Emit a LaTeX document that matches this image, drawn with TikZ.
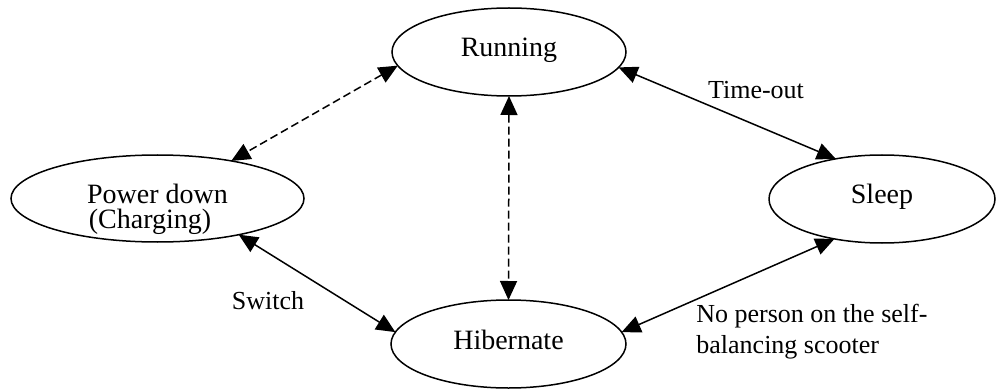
\documentclass[tikz,border=0pt]{standalone}
\usepackage{fontspec}
\setmainfont{Liberation Serif}
\usetikzlibrary{arrows.meta,shapes.geometric}
\begin{document}
\begin{tikzpicture}[x=0.5pt,y=-0.5pt,
  every node/.style={font=\fontsize{13}{15.5}\selectfont},
  state/.style={ellipse, draw, line width=0.75pt, inner sep=0pt, outer sep=0pt,
                font=\fontsize{14}{12.5}\selectfont, text height=9pt, text depth=4pt},
  link/.style={line width=0.75pt, {Triangle[length=9.5pt,width=8.5pt]}-{Triangle[length=9.5pt,width=8.5pt]}},
  dashlink/.style={link, dash pattern=on 4pt off 2pt},
  lbl/.style={inner sep=0pt, anchor=base}]
\useasboundingbox (0,0) rectangle (996,390);

% states
\node[state, minimum width=117pt, minimum height=44pt] (run) at (509,52) {Running};
\node[state, minimum width=146.5pt, minimum height=43.5pt, align=center,
      text height=30pt, text depth=0.5pt] (pd) at (157.5,198.5)
      {Power down\\(Charging)\hspace*{7.5pt}};
\node[state, minimum width=117.5pt, minimum height=44pt] (hib) at (508.5,344) {Hibernate};
\node[state, minimum width=113pt, minimum height=44pt] (sleep) at (882,199) {Sleep};

% transitions
\draw[dashlink] (run.187) -- (pd.27);
\draw[dashlink] (run.270) -- (hib.90);
\draw[link] (run.352) -- (sleep.139);
\draw[link] (sleep.220) -- (hib.6);
\draw[link] (pd.336) -- (hib.174);

% transition labels
\node[lbl] (lto) at (756,98) {Time-out};
\node[lbl] (lsw) at (268,309) {Switch};
\node[inner sep=0pt, anchor=base west, align=left] (lnp) at (696,353)
      {No person on the self-\\balancing scooter};
\end{tikzpicture}
\end{document}
